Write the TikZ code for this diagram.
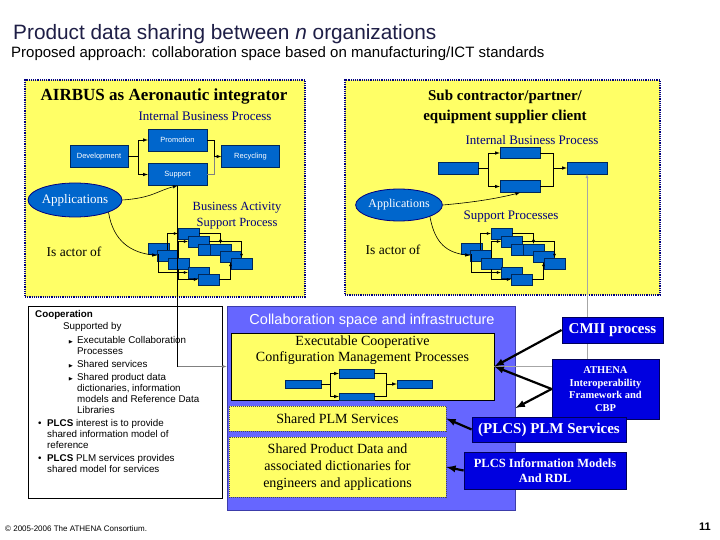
\documentclass[tikz,border=0pt]{standalone}
\usepackage{amssymb}
\usepackage{fontspec}
\setmainfont{Liberation Serif}
\setsansfont{Liberation Sans}
\usetikzlibrary{shapes.geometric}

\definecolor{panelyellow}{RGB}{255,255,102}
\definecolor{navy}{RGB}{0,0,128}
\definecolor{titlenavy}{RGB}{30,30,70}
\definecolor{procblue}{RGB}{0,102,204}
\definecolor{procedge}{RGB}{0,40,90}
\definecolor{collabviolet}{RGB}{102,102,255}
\definecolor{collabedge}{RGB}{60,60,170}
\definecolor{infoblue}{RGB}{0,0,224}
\definecolor{infoedge}{RGB}{0,0,90}

\newcommand{\subbul}{\makebox[9pt][l]{\tiny$\blacktriangleright$}}

% staircase of support activities
\newcommand{\actcluster}[2]{%
  \begin{scope}[shift={#2}]
    \foreach \n/\px/\py in {1/0/0, 2/9/7, 3/20/15, 4/30/-15, 5/40/-7, 6/50/1,
                            7/62/1, 8/72/8, 9/83/15, 10/40/24, 11/50/31}
      \node[cbox] (#1\n) at (\px+10.5,\py+5.5) {};
    \draw[tiny] (#12.north) |- (#14.west);
    \draw[tiny] (#13.north) |- (#15.west);
    \draw[tiny] (#14.east) -| (#17.north);
    \draw[tiny] (#11.south) |- (#110.west);
    \draw[tiny] (#13.south) |- (#111.west);
    \draw[tiny] (#111.east) -| (#18.south);
    \draw[tiny] (#15.east) -| (#19.north);
  \end{scope}}

\begin{document}
\begin{tikzpicture}[x=1pt, y=-1pt,
  panel/.style={draw=navy, line width=1.4pt, dash pattern=on 1.2pt off 1pt, fill=panelyellow, inner sep=0pt},
  proc/.style={draw=procedge, fill=procblue, inner sep=0pt, text=white, font=\sffamily\fontsize{7.5}{8}\selectfont},
  cbox/.style={draw=procedge, fill=procblue, line width=0.4pt, minimum width=21pt, minimum height=11pt, inner sep=0pt},
  appl/.style={ellipse, draw=navy, line width=0.8pt, fill=procblue, text=white, inner sep=0pt},
  link/.style={-latex, line width=0.6pt},
  tiny/.style={-latex, line width=0.4pt},
  fat/.style={-latex, line width=2.2pt},
  shared/.style={draw=gray!60!black, dash pattern=on 1pt off 1pt, fill=panelyellow, align=center, inner sep=0pt, font=\fontsize{14}{17}\selectfont},
  infobox/.style={draw=infoedge, line width=0.8pt, fill=infoblue, text=white, align=center, inner sep=0pt}]

\useasboundingbox[fill=white] (0,0) rectangle (720,540);

% Title
\node[anchor=west, inner sep=0pt, text=titlenavy, font=\sffamily\fontsize{20.8}{22}\selectfont] (title) at (13,34) {Product data sharing between \textit{n} organizations};
\node[anchor=west, inner sep=0pt, font=\sffamily\fontsize{15}{17}\selectfont] (subtitle) at (11,54) {Proposed approach: collaboration space based on manufacturing/ICT standards};

% Left panel: integrator
\node[panel, minimum width=280pt, minimum height=217pt] (lpanel) at (165,188.5) {};
\node[font=\bfseries\fontsize{17}{19}\selectfont] (ltitle) at (164,96) {AIRBUS as Aeronautic integrator};
\node[text=navy, font=\fontsize{13}{15}\selectfont] (lproc) at (205,116) {Internal Business Process};
\node[proc, minimum width=58pt, minimum height=22pt] (ldev) at (99,156.5) {Development};
\node[proc, minimum width=59pt, minimum height=22pt] (lpromo) at (177.5,140) {Promotion};
\node[proc, minimum width=59pt, minimum height=22pt] (lsupp) at (177.5,174.5) {Support};
\node[proc, minimum width=58pt, minimum height=22pt] (lrecy) at (250.5,156.5) {Recycling};
\coordinate (lfork) at (138,156.5);
\coordinate (ljoin) at (214,156.5);
\draw (ldev.east) -- (lfork);
\draw[link] (lfork) |- (lpromo.west);
\draw[link] (lfork) |- (lsupp.west);
\draw (lpromo.east) -| (ljoin);
\draw[gray] (lsupp.east) -| (ljoin);
\draw[link] (ljoin) -- (lrecy.west);

\node[appl, minimum width=82pt, minimum height=34pt, font=\fontsize{13}{15}\selectfont] (lapp) at (75,200) {Applications};
\node[text=navy, align=center, font=\fontsize{12.5}{15.5}\selectfont] (lbasp) at (237,215.5) {Business Activity\\Support Process};
\node[font=\fontsize{13.5}{15}\selectfont] (lactor) at (74,252) {Is actor of};
\actcluster{L}{(148,243)}
\draw[link] (lapp.east) .. controls +(30,-2) and +(-20,5) .. (lsupp.south);
\draw[link] (lapp.south east) .. controls +(5,30) and +(-25,-3) .. (L2.west);

% Right panel: sub contractor
\node[panel, minimum width=315pt, minimum height=215pt] (rpanel) at (502.5,187.5) {};
\node[align=center, font=\bfseries\fontsize{15}{20}\selectfont] (rtitle) at (505,107) {Sub contractor/partner/\\equipment supplier client};
\node[text=navy, font=\fontsize{13}{15}\selectfont] (rproc) at (532,140) {Internal Business Process};
\node[proc, minimum width=40pt, minimum height=12pt] (rb1) at (458,168) {};
\node[proc, minimum width=40pt, minimum height=11pt] (rb2) at (520,153) {};
\node[proc, minimum width=40pt, minimum height=12pt] (rb3) at (520,186.5) {};
\node[proc, minimum width=40pt, minimum height=12pt] (rb4) at (587,168) {};
\coordinate (rfork) at (488,168);
\coordinate (rjoin) at (553,168);
\draw (rb1.east) -- (rfork);
\draw[link] (rfork) |- (rb2.west);
\draw[link] (rfork) |- (rb3.west);
\draw (rb2.east) -| (rjoin);
\draw (rb3.east) -| (rjoin);
\draw[link] (rjoin) -- (rb4.west);

\node[appl, minimum width=79pt, minimum height=32pt, font=\fontsize{12}{14}\selectfont] (rapp) at (399,205) {Applications};
\node[text=navy, font=\fontsize{13}{15}\selectfont] (rsupp) at (511,217) {Support Processes};
\node[font=\fontsize{13.5}{15}\selectfont] (ractor) at (393,250) {Is actor of};
\actcluster{R}{(461,243)}
\draw[link] (rapp.east) .. controls +(35,-3) and +(-20,5) .. (rb3.south);
\draw[link] (rapp.south east) .. controls +(5,28) and +(-22,-3) .. (R2.west);

% Cooperation notes
\node[draw, line width=1pt, fill=white, minimum width=194pt, minimum height=192pt] (coop) at (125,402) {};
\node[anchor=north west, align=left, inner sep=0pt, font=\sffamily\fontsize{9.8}{11}\selectfont] (cooptext) at (35,310) {%
\textbf{Cooperation}\\[1pt]
\hspace*{28pt}Supported by\\[3pt]
\hspace*{33pt}\subbul Executable Collaboration\\
\hspace*{42pt}Processes\\[2pt]
\hspace*{33pt}\subbul Shared services\\[2pt]
\hspace*{33pt}\subbul Shared product data\\
\hspace*{42pt}dictionaries, information\\
\hspace*{42pt}models and Reference Data\\
\hspace*{42pt}Libraries\\[2pt]
\hspace*{3pt}\makebox[9pt][l]{\textbullet}\textbf{PLCS} interest is to provide\\
\hspace*{12pt}shared information model of\\
\hspace*{12pt}reference\\[2pt]
\hspace*{3pt}\makebox[9pt][l]{\textbullet}\textbf{PLCS} PLM services provides\\
\hspace*{12pt}shared model for services};

% Collaboration space
\node[draw=collabedge, line width=1pt, fill=collabviolet, minimum width=288pt, minimum height=204pt] (collab) at (371,408) {};
\node[text=white, font=\sffamily\fontsize{14.5}{16}\selectfont] (collabtitle) at (372,321) {Collaboration space and infrastructure};
\node[draw=black, line width=0.8pt, fill=panelyellow, minimum width=263pt, minimum height=67pt] (exec) at (362.5,366.5) {};
\node[align=center, font=\fontsize{14}{16}\selectfont] (exectext) at (362.5,350) {Executable Cooperative\\Configuration Management Processes};
\node[proc, minimum width=36pt, minimum height=8.5pt] (e1) at (303,384) {};
\node[proc, minimum width=35pt, minimum height=9pt] (e2) at (356.5,373.5) {};
\node[proc, minimum width=35pt, minimum height=7pt] (e3) at (356.5,396.5) {};
\node[proc, minimum width=35pt, minimum height=8.5pt] (e4) at (414.5,384) {};
\coordinate (efork) at (330,384);
\coordinate (ejoin) at (386,384);
\draw (e1.east) -- (efork);
\draw[link] (efork) |- (e2.west);
\draw[link] (efork) |- (e3.west);
\draw (e2.east) -| (ejoin);
\draw (e3.east) -| (ejoin);
\draw[link] (ejoin) -- (e4.west);

\node[shared, minimum width=217pt, minimum height=25pt] (splm) at (337.5,418.5) {Shared PLM Services};
\node[shared, minimum width=217pt, minimum height=60pt] (sdata) at (337.5,467) {Shared Product Data and\\associated dictionaries for\\engineers and applications};

% Links between the organizations and the space
\coordinate (lbend) at (lsupp.south |- exec.west);
\draw[line width=0.8pt] (lsupp.south) -- (lbend);
\draw[gray, -latex] (lbend) -- (collab.west |- exec.west);
\draw[gray!70, -latex] (exec.east) -| (rb4.south);

% Standards
\node[infobox, minimum width=101pt, minimum height=26pt, font=\bfseries\fontsize{15}{17}\selectfont] (cmii) at (612.5,330) {CMII process};
\node[infobox, minimum width=107pt, minimum height=60pt, font=\bfseries\fontsize{10.5}{12.8}\selectfont] (athena) at (605.5,389) {ATHENA\\Interoperability\\Framework and\\CBP};
\node[infobox, minimum width=154pt, minimum height=25pt, font=\bfseries\fontsize{15}{17}\selectfont] (plmsvc) at (549,429.5) {(PLCS) PLM Services};
\node[infobox, minimum width=162pt, minimum height=37pt, font=\bfseries\fontsize{12.5}{15}\selectfont] (plcsinfo) at (545,470.5) {PLCS Information Models\\And RDL};

\draw[fat] (cmii.west) -- (exec.east);
\draw[fat] (athena.west) -- (exec.east);
\draw[fat] (athena.west) -- (collab.east);
\draw[fat] (plmsvc.west) -- (splm.east);
\draw[fat] (plcsinfo.west) -- (sdata.east);

% Footer
\node[anchor=west, inner sep=0pt, font=\sffamily\fontsize{8}{9}\selectfont] (copy) at (5,529) {\textcopyright{} 2005-2006 The ATHENA Consortium.};
\node[font=\sffamily\bfseries\fontsize{11}{12}\selectfont] (page) at (705,527) {11};

\end{tikzpicture}
\end{document}
